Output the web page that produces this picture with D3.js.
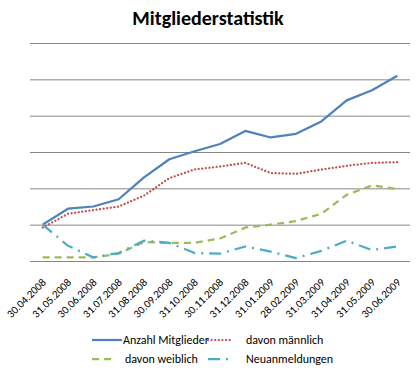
<!DOCTYPE html>
<html>
  <head>
    <meta charset="utf-8">
    <script src="https://cdn.jsdelivr.net/npm/d3@7"></script>
    <style>
      body { margin: 0; background: #fff; }
      text { font-family: Carlito, Lato, sans-serif; fill: #000; }
    </style>
  </head>
  <body>
    <svg width="419" height="372"></svg>
    <script>
      const dates = ['30.04.2008','31.05.2008','30.06.2008','31.07.2008','31.08.2008','30.09.2008','31.10.2008',
        '30.11.2008','31.12.2008','31.01.2009','28.02.2009','31.03.2009','31.04.2009','31.05.2009','30.06.2009'];
      const anzahl = [50, 72, 75, 85, 115, 140, 151, 161, 179, 170, 175, 192, 221, 235, 255];
      const maennlich = [46, 65, 70, 75, 90, 114, 126, 130, 135, 121, 120, 126, 131, 135, 136];
      const weiblich = [5, 5, 5, 10, 26, 25, 25, 31, 46, 50, 55, 65, 91, 104, 99];
      const neu = [50, 21, 5, 11, 28, 25, 11, 10, 20, 13, 4, 14, 28, 15, 20];
      const yTicks = [0, 50, 100, 150, 200, 250, 300];

      const series = [
        { name: 'Anzahl Mitglieder', values: anzahl, color: '#4F81BD', dash: null, cap: 'butt' },
        { name: 'davon männlich', values: maennlich, color: '#C0504D', dash: '0.1 3.5', cap: 'round' },
        { name: 'davon weiblich', values: weiblich, color: '#9BBB59', dash: '7 5', cap: 'butt' },
        { name: 'Neuanmeldungen', values: neu, color: '#4BACC6', dash: '12 6 2 6', cap: 'butt' }
      ];

      const margin = { left: 30, right: 9, top: 43, bottom: 111 };
      const svg = d3.select('svg');
      const width = +svg.attr('width');
      const height = +svg.attr('height');
      const innerWidth = width - margin.left - margin.right;
      const innerHeight = height - margin.top - margin.bottom;

      svg.append('text')
        .attr('x', 208)
        .attr('y', 25)
        .attr('text-anchor', 'middle')
        .attr('font-weight', 'bold')
        .attr('font-size', 20)
        .text('Mitgliederstatistik');

      const g = svg.append('g')
        .attr('transform', `translate(${margin.left},${margin.top})`);

      const xScale = d3.scaleBand().domain(dates).range([0, innerWidth]);
      const yScale = d3.scaleLinear().domain([0, 300]).range([innerHeight, 0]);

      // gridlines
      g.selectAll('.grid').data(yTicks).enter().append('line')
        .attr('x1', 0).attr('x2', innerWidth)
        .attr('y1', d => yScale(d) + 0.5).attr('y2', d => yScale(d) + 0.5)
        .attr('stroke', '#868686')
        .attr('stroke-width', 1);

      // x labels
      g.selectAll('.xlabel').data(dates).enter().append('text')
        .attr('text-anchor', 'end')
        .attr('font-size', 11)
        .attr('fill', '#000')
        .attr('transform', d => `translate(${xScale(d) + xScale.bandwidth() / 2 + 4},${innerHeight + 22}) rotate(-45)`)
        .text(d => d);

      const line = d3.line()
        .x((d, i) => xScale(dates[i]) + xScale.bandwidth() / 2)
        .y(d => yScale(d));

      series.forEach(s => {
        g.append('path')
          .attr('d', line(s.values))
          .attr('fill', 'none')
          .attr('stroke', s.color)
          .attr('stroke-width', 2.25)
          .attr('stroke-linecap', s.cap)
          .attr('stroke-linejoin', 'round')
          .attr('stroke-dasharray', s.dash);
      });

      // legend
      const legendPos = [[92, 340], [208, 340], [92, 359], [208, 359]];
      const legendLen = [30, 25, 24, 25];
      const textX = [123, 246, 125, 246];
      series.forEach((s, i) => {
        const [lx, ly] = legendPos[i];
        svg.append('line')
          .attr('x1', lx).attr('x2', lx + legendLen[i])
          .attr('y1', ly).attr('y2', ly)
          .attr('stroke', s.color)
          .attr('stroke-width', 2.25)
          .attr('stroke-linecap', s.cap)
          .attr('stroke-dasharray', s.dash);
        svg.append('text')
          .attr('x', textX[i])
          .attr('y', ly + 4)
          .attr('font-size', 12)
          .text(s.name);
      });
    </script>
  </body>
</html>
